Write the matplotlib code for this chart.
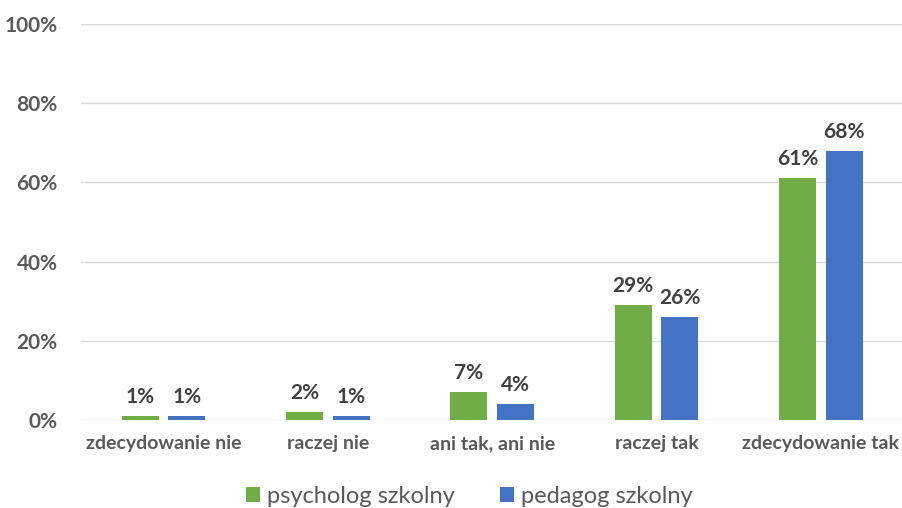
import matplotlib
matplotlib.use('Agg')
from matplotlib import pyplot as plt
from matplotlib.ticker import PercentFormatter
import numpy as np

categories = ['zdecydowanie nie', 'raczej nie', 'ani tak, ani nie', 'raczej tak', 'zdecydowanie tak']
psycholog = [1, 2, 7, 29, 61]
pedagog = [1, 1, 4, 26, 68]
series_names = ['psycholog szkolny', 'pedagog szkolny']
colors = ['#70AD47', '#4472C4']

plt.rcParams['font.family'] = ['Lato', 'DejaVu Sans']

fig = plt.figure(figsize=(9.03, 5.08), dpi=100)
ax = fig.add_axes([0.09, 0.173, 0.91, 0.78])

x = np.arange(len(categories))
width = 0.225
gap = 0.06
offsets = [-(width + gap) / 2, (width + gap) / 2]

for vals, name, color, off in zip([psycholog, pedagog], series_names, colors, offsets):
    bars = ax.bar(x + off, vals, width, color=color, label=name, zorder=3)
    for b, v in zip(bars, vals):
        ax.text(b.get_x() + b.get_width() / 2, v + 2.3, f'{v}%', ha='center', va='bottom',
                fontsize=15, fontweight='bold', color='#404040')

ax.set_xlim(-0.5, len(categories) - 0.5)
ax.set_ylim(0, 100)
ax.set_yticks(range(0, 101, 20))
ax.yaxis.set_major_formatter(PercentFormatter(decimals=0))
ax.set_xticks(x)
ax.set_xticklabels(categories)
ax.grid(axis='y', color='#D9D9D9', linewidth=1, zorder=0)
for s in ax.spines.values():
    s.set_visible(False)
ax.tick_params(axis='both', length=0, labelcolor='#595959')
ax.tick_params(axis='x', pad=11, labelsize=14)
ax.tick_params(axis='y', pad=17, labelsize=15)
for lbl in ax.get_xticklabels() + ax.get_yticklabels():
    lbl.set_fontweight('bold')

fig.legend(loc='lower center', bbox_to_anchor=(0.52, -0.04), ncol=2, frameon=False,
           fontsize=17, handlelength=0.6, handleheight=0.6, handletextpad=0.3,
           columnspacing=1.9, labelcolor='#595959')

plt.savefig('out.png', dpi=100, facecolor='white')
plt.close()
